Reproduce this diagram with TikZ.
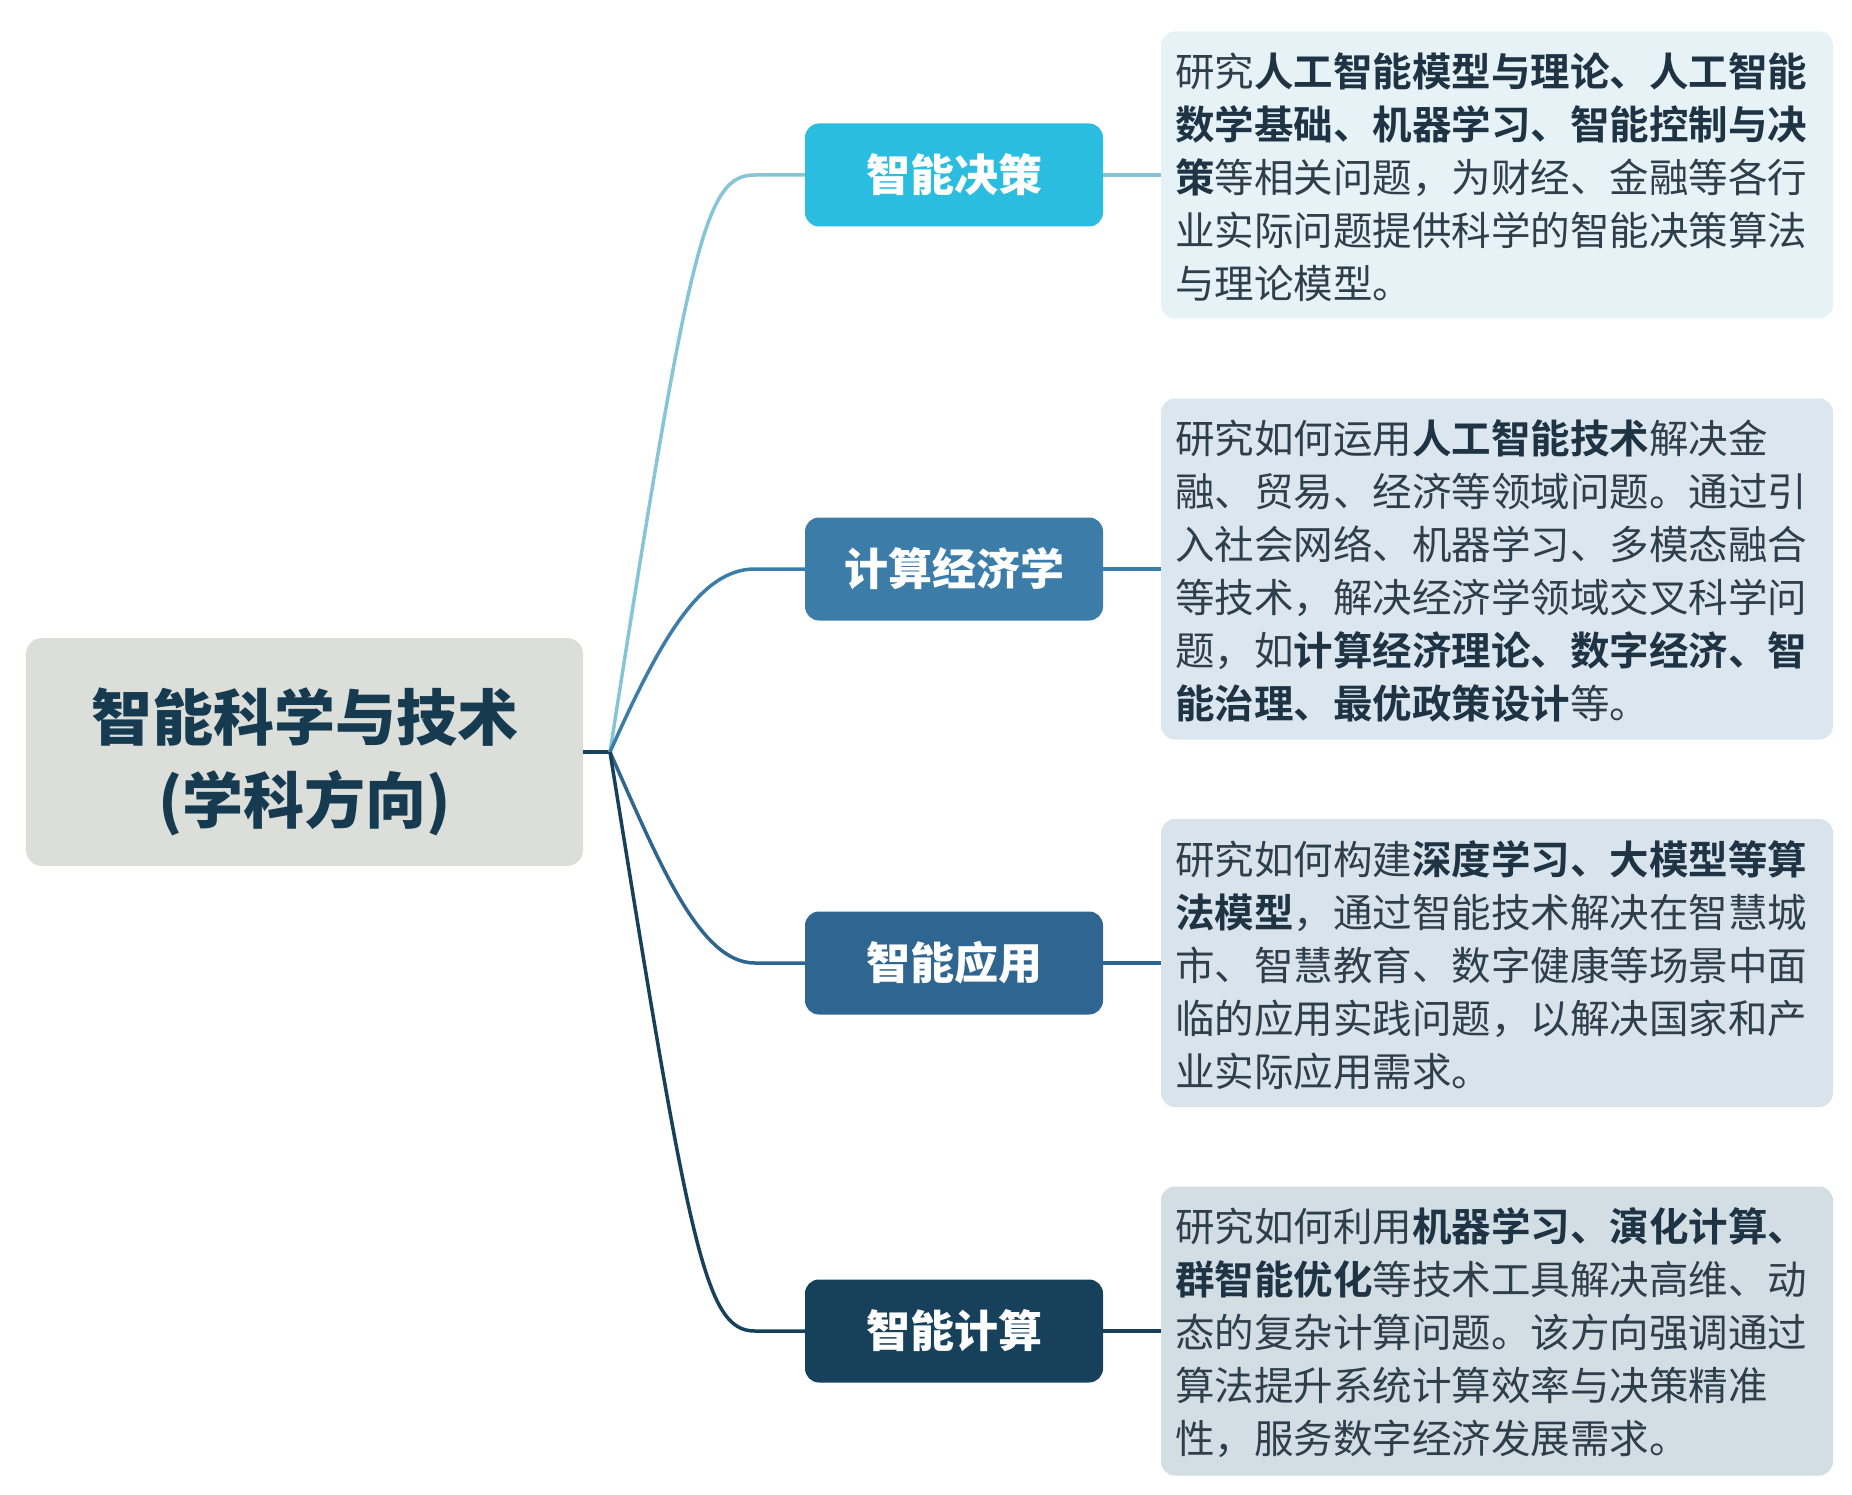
\documentclass[tikz,border=0pt]{standalone}
\usepackage{fontspec}
\setmainfont{Noto Sans CJK SC}[BoldFont={Noto Sans CJK SC Bold}]
\newfontfamily\heavy{Noto Sans CJK SC Black}
\definecolor{rootfill}{HTML}{DCDEDA}
\definecolor{roottext}{HTML}{163A50}
\definecolor{bA}{HTML}{2BBDE0}
\definecolor{bB}{HTML}{3B7DA8}
\definecolor{bC}{HTML}{2E6691}
\definecolor{bD}{HTML}{17405A}
\definecolor{lA}{HTML}{86C5D8}
\definecolor{dA}{HTML}{E6F2F6}
\definecolor{dB}{HTML}{DCE6EE}
\definecolor{dC}{HTML}{D9E3EB}
\definecolor{dD}{HTML}{D3DDE4}
\definecolor{desctext}{HTML}{2E3F4B}
\definecolor{descbold}{HTML}{1E3444}
\newcommand{\hb}[1]{\textbf{\color{descbold}#1}}
\tikzset{
  rootbox/.style={rectangle, rounded corners=16pt, fill=rootfill, minimum width=557pt, minimum height=228pt,
    text=roottext, font=\fontsize{61pt}{83pt}\heavy, align=center, inner sep=0pt},
  branchbox/.style={rectangle, rounded corners=14pt, minimum width=298pt, minimum height=103pt,
    text=white, font=\fontsize{44pt}{50pt}\heavy, inner sep=0pt},
  descbox/.style={rectangle, rounded corners=14pt, minimum width=672pt, text width=644pt, align=left,
    inner xsep=14pt, inner ysep=8pt, text=desctext, font=\fontsize{39.5pt}{53pt}\selectfont},
  conn/.style={line width=3.5pt}
}
\begin{document}
\begin{tikzpicture}[x=1pt,y=-1pt]
\useasboundingbox (0,0) rectangle (1852,1495);
\node[rootbox] (root) at (304.5,752) {\rule{0pt}{72pt}智能科学与技术\\(学科方向)};
\coordinate (j) at (610,752);
\node[branchbox, fill=bA] (b1) at (954,175) {智能决策};
\node[branchbox, fill=bB] (b2) at (954,569) {计算经济学};
\node[branchbox, fill=bC] (b3) at (954,963) {智能应用};
\node[branchbox, fill=bD] (b4) at (954,1331) {智能计算};
\node[descbox, fill=dA, minimum height=287pt] (d1) at (1497,175) {\rule{0pt}{38pt}研究\hb{人工智能模型与理论、人工智能}\\\hb{数学基础、机器学习、智能控制与决}\\\hb{策}等相关问题，为财经、金融等各行\\业实际问题提供科学的智能决策算法\\与理论模型。};
\node[descbox, fill=dB, minimum height=341pt] (d2) at (1497,569) {\rule{0pt}{38pt}研究如何运用\hb{人工智能技术}解决金\\融、贸易、经济等领域问题。通过引\\入社会网络、机器学习、多模态融合\\等技术，解决经济学领域交叉科学问\\题，如\hb{计算经济理论、数字经济、智}\\\hb{能治理、最优政策设计}等。};
\node[descbox, fill=dC, minimum height=288pt] (d3) at (1497,963) {\rule{0pt}{38pt}研究如何构建\hb{深度学习、大模型等算}\\\hb{法模型}，通过智能技术解决在智慧城\\市、智慧教育、数字健康等场景中面\\临的应用实践问题，以解决国家和产\\业实际应用需求。};
\node[descbox, fill=dD, minimum height=289pt] (d4) at (1497,1331) {\rule{0pt}{38pt}研究如何利用\hb{机器学习、演化计算、}\\\hb{群智能优化}等技术工具解决高维、动\\态的复杂计算问题。该方向强调通过\\算法提升系统计算效率与决策精准\\性，服务数字经济发展需求。};
\draw[conn, draw=bD] (root.east) -- (j);
\draw[conn, draw=lA] (j) .. controls (690,240) and (705,175) .. ([xshift=-50pt]b1.west) -- (b1.west);
\draw[conn, draw=bB] (j) .. controls (660,640) and (700,569) .. ([xshift=-50pt]b2.west) -- (b2.west);
\draw[conn, draw=bC] (j) .. controls (660,865) and (700,963) .. ([xshift=-50pt]b3.west) -- (b3.west);
\draw[conn, draw=bD] (j) .. controls (690,1250) and (705,1331) .. ([xshift=-50pt]b4.west) -- (b4.west);
\draw[conn, draw=lA] (b1.east) -- (d1.west);
\draw[conn, draw=bB] (b2.east) -- (d2.west);
\draw[conn, draw=bC] (b3.east) -- (d3.west);
\draw[conn, draw=bD] (b4.east) -- (d4.west);
\end{tikzpicture}
\end{document}
